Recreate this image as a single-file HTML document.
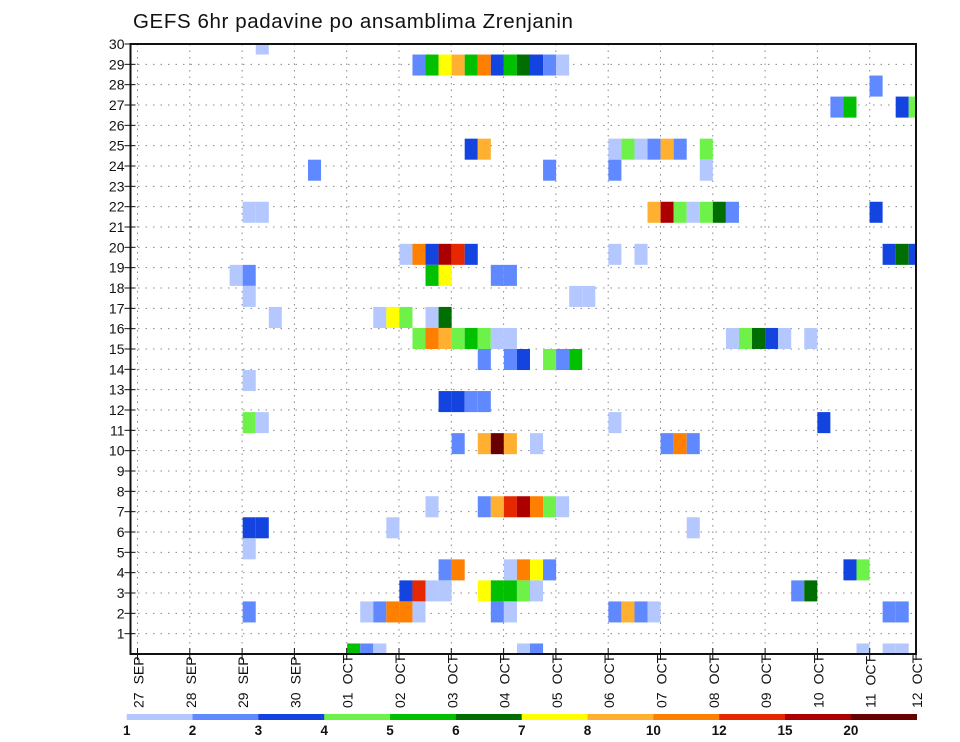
<!DOCTYPE html>
<html><head><meta charset="utf-8"><style>
body{margin:0;background:#fff;width:960px;height:742px;overflow:hidden}
svg{display:block;font-family:"Liberation Sans",sans-serif}
</style></head><body>
<svg id="chart" width="960" height="742" viewBox="0 0 960 742">
<text x="133" y="28" font-size="20.5" fill="#111" letter-spacing="0.6">GEFS 6hr padavine po ansamblima Zrenjanin</text>
<g id="grid"></g>
<g id="cells"></g>
<g id="axes"></g>
<g id="legend"></g>
</svg>
<script>
// ---- data ----
const dayLabels=["27 SEP","28 SEP","29 SEP","30 SEP","01 OCT","02 OCT","03 OCT","04 OCT","05 OCT","06 OCT","07 OCT","08 OCT","09 OCT","10 OCT","11 OCT","12 OCT"];
const memberTicks=[1,2,3,4,5,6,7,8,9,10,11,12,13,14,15,16,17,18,19,20,21,22,23,24,25,26,27,28,29,30];
const levelBounds=[1,2,3,4,5,6,7,8,10,12,15,20];
const levelColors=["#b4c8ff","#6089ff","#1444e0","#6ef24a","#00c000","#006e00","#ffff00","#ffb030","#ff8000","#e62800","#ac0000","#680000"];
const levelMid=[1.5,2.5,3.5,4.5,5.5,6.5,7.5,9,11,13,17,22];
// cell rows (0 = top) , steps (6h index from 27 SEP 00z), level index (1..12)
const cellRow=[], cellStep=[], cellValue=[];
const raw=[
[0,9,1],
[1,21,2],[1,22,5],[1,23,7],[1,24,8],[1,25,5],[1,26,9],[1,27,3],[1,28,5],[1,29,6],[1,30,3],[1,31,2],[1,32,1],
[2,56,2],
[3,53,2],[3,54,5],[3,58,3],[3,59,4],
[5,25,3],[5,26,8],[5,36,1],[5,37,4],[5,38,1],[5,39,2],[5,40,8],[5,41,2],[5,43,4],
[6,13,2],[6,31,2],[6,36,2],[6,43,1],
[8,8,1],[8,9,1],[8,39,8],[8,40,11],[8,41,4],[8,42,1],[8,43,4],[8,44,6],[8,45,2],[8,56,3],
[10,20,1],[10,21,9],[10,22,3],[10,23,11],[10,24,10],[10,25,3],[10,36,1],[10,38,1],[10,57,3],[10,58,6],[10,59,3],
[11,7,1],[11,8,2],[11,22,5],[11,23,7],[11,27,2],[11,28,2],
[12,8,1],[12,33,1],[12,34,1],
[13,10,1],[13,18,1],[13,19,7],[13,20,4],[13,22,1],[13,23,6],
[14,21,4],[14,22,9],[14,23,8],[14,24,4],[14,25,5],[14,26,4],[14,27,1],[14,28,1],[14,45,1],[14,46,4],[14,47,6],[14,48,3],[14,49,1],[14,51,1],
[15,26,2],[15,28,2],[15,29,3],[15,31,4],[15,32,2],[15,33,5],
[16,8,1],
[17,23,3],[17,24,3],[17,25,2],[17,26,2],
[18,8,4],[18,9,1],[18,36,1],[18,52,3],
[19,24,2],[19,26,8],[19,27,12],[19,28,8],[19,30,1],[19,40,2],[19,41,9],[19,42,2],
[22,22,1],[22,26,2],[22,27,8],[22,28,10],[22,29,11],[22,30,9],[22,31,4],[22,32,1],
[23,8,3],[23,9,3],[23,19,1],[23,42,1],
[24,8,1],
[25,23,2],[25,24,9],[25,28,1],[25,29,9],[25,30,7],[25,31,2],[25,54,3],[25,55,4],
[26,20,3],[26,21,10],[26,22,1],[26,23,1],[26,26,7],[26,27,5],[26,28,5],[26,29,4],[26,30,1],[26,50,2],[26,51,6],
[27,8,2],[27,17,1],[27,18,2],[27,19,9],[27,20,9],[27,21,1],[27,27,2],[27,28,1],[27,36,2],[27,37,8],[27,38,2],[27,39,1],[27,57,2],[27,58,2],
[29,16,5],[29,17,2],[29,18,1],[29,29,1],[29,30,2],[29,55,1],[29,57,1],[29,58,1]
];
raw.forEach(r=>{cellRow.push(r[0]);cellStep.push(r[1]);cellValue.push(levelMid[r[2]-1]);});

// ---- layout ----
const L=130.5,T=44,R=916,B=654;
const NS="http://www.w3.org/2000/svg";
function mk(tag,attrs,parent){const e=document.createElementNS(NS,tag);for(const k in attrs)e.setAttribute(k,attrs[k]);parent.appendChild(e);return e;}
const xDay=d=>Math.min(137.5+52.3*d,R);
const xStep=s=>138.2+13.06*s;
const stepW=13.06;
const yRowC=j=>T+j*((B-T)/29);
const rowH=(B-T)/29;
const yTick=m=>B-(m)*((B-T)/30);
function colorFor(v){let i=0;for(let k=0;k<levelBounds.length;k++){if(v>=levelBounds[k])i=k;}return levelColors[i];}

const grid=document.getElementById('grid');
memberTicks.forEach(m=>{
  const l=mk('line',{x1:L,x2:R,y1:yTick(m),y2:yTick(m),stroke:'#888','stroke-width':1,'stroke-dasharray':'1.5 6'},grid);
  
  
});
dayLabels.forEach((d,i)=>{
  const l=mk('line',{x1:xDay(i),x2:xDay(i),y1:T,y2:B,stroke:'#888','stroke-width':1,'stroke-dasharray':'1.5 5'},grid);
  
  
});

const cells=document.getElementById('cells');
const clip=mk('clipPath',{id:'pc'},cells);
mk('rect',{x:L,y:T,width:R-L,height:B-T},clip);
const cg=mk('g',{'clip-path':'url(#pc)'},cells);
for(let i=0;i<cellRow.length;i++){
  const r=mk('rect',{x:xStep(cellStep[i]),y:yRowC(cellRow[i])-rowH/2,width:stepW,height:rowH,fill:colorFor(cellValue[i])},cg);
  
  
}

const axes=document.getElementById('axes');
const frame=mk('rect',{x:L,y:T,width:R-L,height:B-T,fill:'none',stroke:'#111','stroke-width':2},axes);


memberTicks.forEach(m=>{
  const y=yTick(m);
  mk('line',{x1:L-6,x2:L+5,y1:y,y2:y,stroke:'#111','stroke-width':1},axes);
  const t=mk('text',{x:L-6,y:y+5,'font-size':14,'text-anchor':'end',fill:'#111'},axes);
  t.textContent=m;
  
  
});
dayLabels.forEach((d,i)=>{
  const x=xDay(i);
  mk('line',{x1:x,x2:x,y1:B-6,y2:B+6,stroke:'#111','stroke-width':1},axes);
  const p=d.split(' ');
  const t=mk('text',{x:0,y:0,'font-size':14,fill:'#111',transform:`translate(${x+6},708) rotate(-90)`},axes);
  
  
  const a=mk('tspan',{},t);a.textContent=p[0];
  const b=mk('tspan',{dx:8},t);b.textContent=p[1];
});

const leg=document.getElementById('legend');
const lx0=126.7,lw=(916.7-126.7)/12;
levelColors.forEach((c,i)=>{
  const r=mk('rect',{x:lx0+i*lw,y:714,width:lw+0.3,height:6,fill:c},leg);
  
  
});
levelBounds.forEach((b,i)=>{
  const t=mk('text',{x:lx0+i*lw,y:735,'font-size':13.5,'font-weight':'bold','text-anchor':'middle',fill:'#111'},leg);
  t.textContent=b;
  
  
});
</script>
</body></html>
